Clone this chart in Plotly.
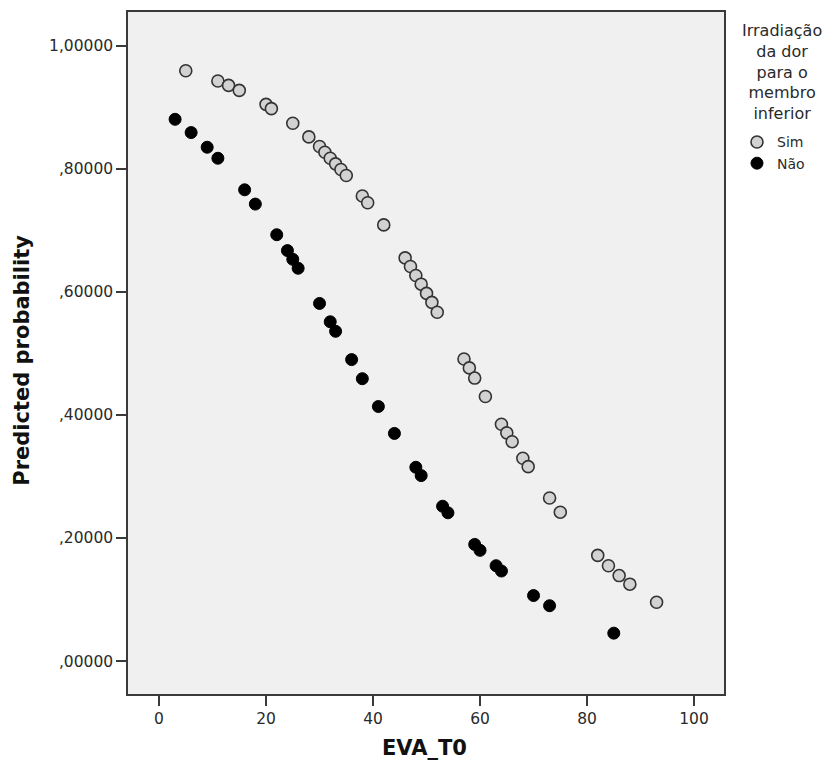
import plotly.graph_objects as go

# Data
sim_eva = [5, 11, 13, 15, 20, 21, 25, 28, 30, 31, 32, 33, 34, 35, 38, 39, 42, 46, 47, 48,
           49, 50, 51, 52, 57, 58, 59, 61, 64, 65, 66, 68, 69, 73, 75, 82, 84, 86, 88, 93]
sim_prob = [0.9595, 0.9428, 0.9357, 0.9276, 0.9049, 0.8979, 0.8741, 0.8520, 0.8363, 0.8270,
            0.8173, 0.8082, 0.7990, 0.7893, 0.7560, 0.7450, 0.7090, 0.6553, 0.6413, 0.6267,
            0.6126, 0.5976, 0.5830, 0.5670, 0.4910, 0.4765, 0.4600, 0.4300, 0.3850, 0.3710,
            0.3566, 0.3296, 0.3160, 0.2650, 0.2420, 0.1718, 0.1550, 0.1390, 0.1250, 0.0956]

nao_eva = [3, 6, 9, 11, 16, 18, 22, 24, 25, 26, 30, 32, 33, 36, 38, 41, 44, 48, 49, 53,
           54, 59, 60, 63, 64, 70, 73, 85]
nao_prob = [0.8806, 0.8590, 0.8352, 0.8173, 0.7660, 0.7428, 0.6930, 0.6672, 0.6530, 0.6385,
            0.5813, 0.5515, 0.5360, 0.4900, 0.4590, 0.4138, 0.3700, 0.3150, 0.3015, 0.2517,
            0.2410, 0.1896, 0.1800, 0.1550, 0.1464, 0.1065, 0.0900, 0.0454]

y_tickvals = [0.0, 0.2, 0.4, 0.6, 0.8, 1.0]
y_ticktext = [",00000", ",20000", ",40000", ",60000", ",80000", "1,00000"]
x_tickvals = [0, 20, 40, 60, 80, 100]

legend_title = "Irradiação<br>da dor<br>para o<br>membro<br>inferior"
x_title = "EVA_T0"
y_title = "Predicted probability"

FONT = "DejaVu Sans"
AXIS_COLOR = "#3a3a3a"
TEXT_COLOR = "#2a2a2a"

fig = go.Figure()
fig.add_trace(go.Scatter(
    x=sim_eva, y=sim_prob, mode="markers", name="Sim",
    marker=dict(size=12, color="#d2d2d2", line=dict(color="#333333", width=1.6)),
))
fig.add_trace(go.Scatter(
    x=nao_eva, y=nao_prob, mode="markers", name="Não",
    marker=dict(size=12, color="#000000", line=dict(color="#000000", width=1)),
))

fig.update_layout(
    width=834, height=766,
    margin=dict(l=128, r=110, t=10, b=72),
    paper_bgcolor="white",
    plot_bgcolor="#f0f0f0",
    font=dict(family=FONT, size=14, color=TEXT_COLOR),
    showlegend=True,
    legend=dict(
        x=1.0218, xanchor="left", y=0.8323, yanchor="top",
        font=dict(family=FONT, size=14, color=TEXT_COLOR),
        bgcolor="rgba(0,0,0,0)", tracegroupgap=0, itemwidth=30,
    ),
    xaxis=dict(
        range=[-5.8, 105.6], tickvals=x_tickvals, showgrid=False, zeroline=False,
        showline=True, linecolor=AXIS_COLOR, linewidth=1.5, mirror=True,
        ticks="outside", ticklen=10, tickcolor=AXIS_COLOR, tickwidth=1.5,
        tickfont=dict(family=FONT, size=15.5, color=TEXT_COLOR),
    ),
    yaxis=dict(
        range=[-0.0535, 1.055], tickvals=y_tickvals, ticktext=y_ticktext,
        showgrid=False, zeroline=False,
        showline=True, linecolor=AXIS_COLOR, linewidth=1.5, mirror=True,
        ticks="outside", ticklen=10, tickcolor=AXIS_COLOR, tickwidth=1.5,
        tickfont=dict(family=FONT, size=15.5, color=TEXT_COLOR),
    ),
    annotations=[
        dict(text=legend_title, xref="paper", yref="paper", x=1.0973, y=0.9902,
             xanchor="center", yanchor="top", showarrow=False, align="center",
             font=dict(family=FONT, size=16, color=TEXT_COLOR)),
        dict(text="<b>" + x_title + "</b>", xref="paper", yref="paper", x=0.497, y=-0.0789,
             xanchor="center", yanchor="middle", showarrow=False,
             font=dict(family=FONT, size=21, color="#111111")),
        dict(text="<b>" + y_title + "</b>", xref="paper", yref="paper", x=-0.178, y=0.49,
             xanchor="center", yanchor="middle", showarrow=False, textangle=-90,
             font=dict(family=FONT, size=21, color="#111111")),
    ],
)

fig.write_html("out.html")
